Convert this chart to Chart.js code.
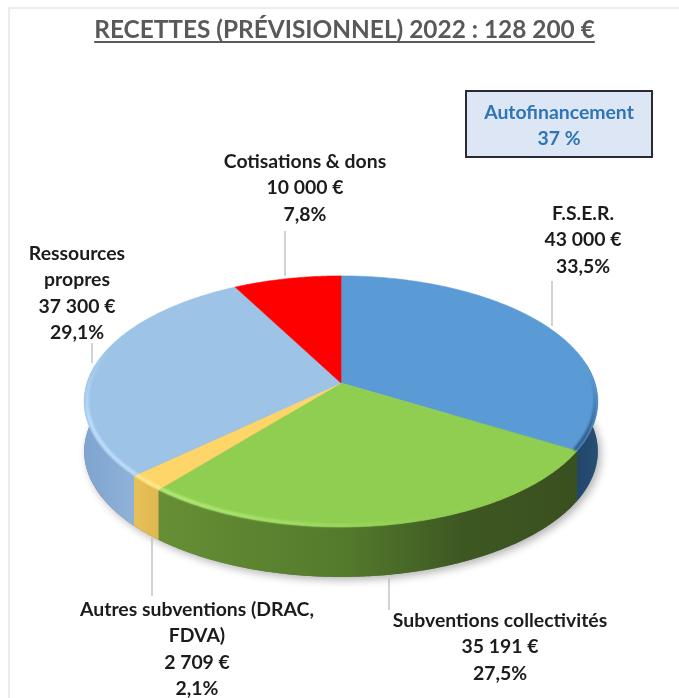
<!DOCTYPE html>
<html>
<head>
<meta charset="utf-8">
<title>Recettes 2022</title>
<script src="https://cdn.jsdelivr.net/npm/chart.js@4"></script>
<style>
    html, body { margin: 0; padding: 0; background: #fff; }
    #wrap { position: relative; width: 679px; height: 698px; overflow: hidden; }
    canvas { display: block; filter: blur(0.45px); }
</style>
</head>
<body>
<div id="wrap"><canvas id="pie" width="679" height="698"></canvas></div>
<script>
// values
const categories = ['F.S.E.R.', 'Subventions collectivités', 'Autres subventions (DRAC, FDVA)', 'Ressources propres', 'Cotisations & dons'];
const amounts = [43000, 35191, 2709, 37300, 10000];
const amountLabels = ['43 000 €', '35 191 €', '2 709 €', '37 300 €', '10 000 €'];
const percentLabels = ['33,5%', '27,5%', '2,1%', '29,1%', '7,8%'];
const titleText = 'RECETTES (PRÉVISIONNEL) 2022 : 128 200 €';
const boxLines = ['Autofinancement', '37 %'];

const topColors = ['#5b9bd5', '#8fce50', '#fdd568', '#9dc3e6', '#ff0000'];
const sideStops = [
    [[0, '#23466b'], [1, '#264e75']],
    [[0, '#668f35'], [0.45, '#537a2c'], [0.72, '#3e5822'], [1, '#3a501f']],
    [[0, '#e8c05a'], [1, '#e0b850']],
    [[0, '#7ea5d0'], [0.5, '#86abd4'], [1, '#8fb2d8']],
    [[0, '#c00000'], [1, '#c00000']]
];
// bevel on the rim: gradient x0,y0,x1,y1 and its two colours
const bevels = [
    [0, 375, 0, 435, 'rgba(38,80,125,0)', 'rgba(38,80,125,0.85)'],
    [163, 0, 440, 0, 'rgba(182,236,122,0.95)', 'rgba(182,236,122,0)'],
    [0, 0, 0, 1, '#ffe98f', '#ffe98f'],
    [0, 345, 0, 420, 'rgba(190,222,251,0)', 'rgba(190,222,251,1)'],
    null
];

// label placement, one block per slice: centre x, first baseline
const labelLines = [
    ['F.S.E.R.', amountLabels[0], percentLabels[0]],
    ['Subventions collectivités', amountLabels[1], percentLabels[1]],
    ['Autres subventions (DRAC,', 'FDVA)', amountLabels[2], percentLabels[2]],
    ['Ressources', 'propres', amountLabels[3], percentLabels[3]],
    ['Cotisations & dons', amountLabels[4], percentLabels[4]]
];
const labelPos = [[583, 220], [500, 627], [197, 616], [77, 260], [305, 168]];
const leaders = [[552, 281, 326], [389, 578, 610], [152, 538, 596], [92, 343, 363], [285, 231, 276]];

// tilted disc: apex on screen, projection constants
const apexX = 341, apexY = 383, depth = 50;
const scaleX = 254, scaleY = 122.8, tilt = 0.147;

function project(angle, r) {
    // angle as chart.js gives it, -PI/2 is straight up
    const u = Math.cos(angle) * r;
    const v = Math.sin(angle) * r;
    const w = 1 - tilt * v;
    return [apexX + scaleX * u / w, apexY + scaleY * v / w];
}

function rimPoints(a0, a1, r) {
    const n = Math.max(2, Math.ceil(Math.abs(a1 - a0) / 0.01));
    const pts = [];
    for (let i = 0; i <= n; i++) pts.push(project(a0 + (a1 - a0) * i / n, r));
    return pts;
}

function tracePoly(ctx, pts) {
    ctx.beginPath();
    pts.forEach((p, i) => i ? ctx.lineTo(p[0], p[1]) : ctx.moveTo(p[0], p[1]));
}

function frontOnly(a0, a1) {
    // the part of a slice rim that faces the viewer (lower half of the disc)
    const lo = Math.max(a0, -0.15), hi = Math.min(a1, Math.PI + 0.15);
    return hi > lo ? [lo, hi] : null;
}

const discPlugin = {
    id: 'disc',
    beforeDatasetDraw(chart, args) {
        const ctx = chart.ctx;
        const arcs = chart.getDatasetMeta(args.index).data;

        // soft shadow under the disc
        ctx.save();
        ctx.shadowColor = 'rgba(0,0,0,0.3)';
        ctx.shadowBlur = 9;
        ctx.shadowOffsetX = 3;
        ctx.shadowOffsetY = 3;
        ctx.fillStyle = '#777';
        const low = rimPoints(-0.15, Math.PI + 0.15, 1).map(p => [p[0], p[1] + depth]);
        tracePoly(ctx, low);
        ctx.closePath();
        ctx.fill();
        ctx.restore();

        // side wall
        arcs.forEach((arc, i) => {
            const span = frontOnly(arc.startAngle, arc.endAngle);
            if (!span) return;
            const top = rimPoints(span[0], span[1], 1);
            const pts = top.concat(top.slice().reverse().map(p => [p[0], p[1] + depth]));
            const xs = top.map(p => p[0]);
            const x0 = Math.min(...xs), x1 = Math.max(...xs);
            const g = ctx.createLinearGradient(x0, 0, x1, 0);
            sideStops[i].forEach(s => g.addColorStop(s[0], s[1]));
            tracePoly(ctx, pts);
            ctx.closePath();
            ctx.fillStyle = g;
            ctx.fill();
        });

        // top faces
        arcs.forEach((arc, i) => {
            const pts = [[apexX, apexY]].concat(rimPoints(arc.startAngle, arc.endAngle, 1));
            tracePoly(ctx, pts);
            ctx.closePath();
            ctx.fillStyle = topColors[i];
            ctx.fill();
            ctx.strokeStyle = topColors[i];
            ctx.lineWidth = 0.6;
            ctx.stroke();
        });

        // bevel along the rim
        ctx.save();
        ctx.filter = 'blur(1px)';
        arcs.forEach((arc, i) => {
            const b = bevels[i];
            if (!b) return;
            const g = ctx.createLinearGradient(b[0], b[1], b[2], b[3]);
            g.addColorStop(0, b[4]);
            g.addColorStop(1, b[5]);
            tracePoly(ctx, rimPoints(arc.startAngle, arc.endAngle, 0.99));
            ctx.strokeStyle = g;
            ctx.lineWidth = 3.5;
            ctx.stroke();
        });
        ctx.restore();
        return false;
    },
    afterDraw(chart) {
        const ctx = chart.ctx;

        // faint frame of the original slide
        ctx.fillStyle = '#ececec';
        ctx.fillRect(8, 7, 671, 2);
        ctx.fillRect(8, 7, 2, 691);

        // leader lines
        ctx.strokeStyle = '#b5b5b5';
        ctx.lineWidth = 1.2;
        leaders.forEach(l => {
            ctx.beginPath();
            ctx.moveTo(l[0], l[1]);
            ctx.lineTo(l[0], l[2]);
            ctx.stroke();
        });

        // slice labels
        ctx.fillStyle = '#1c1c1c';
        ctx.font = 'bold 19.4px Lato, Carlito, sans-serif';
        ctx.textAlign = 'center';
        ctx.textBaseline = 'alphabetic';
        labelLines.forEach((lines, i) => {
            lines.forEach((line, j) => ctx.fillText(line, labelPos[i][0], labelPos[i][1] + j * 26.3));
        });

        // title
        ctx.fillStyle = '#595959';
        ctx.font = 'bold 24.4px Lato, Carlito, sans-serif';
        ctx.fillText(titleText, 344.5, 38);
        const w = ctx.measureText(titleText).width;
        ctx.fillRect(344.5 - w / 2, 41, w, 2);

        // autofinancement box
        ctx.fillStyle = '#dce6f4';
        ctx.fillRect(466, 91, 186, 66);
        ctx.strokeStyle = '#2a2a35';
        ctx.lineWidth = 2;
        ctx.strokeRect(466, 91, 186, 66);
        ctx.fillStyle = '#2e75b6';
        ctx.font = 'bold 19.4px Lato, Carlito, sans-serif';
        ctx.fillText(boxLines[0], 559, 119);
        ctx.fillText(boxLines[1], 559, 145);
    }
};

new Chart(document.getElementById('pie'), {
    type: 'pie',
    data: {
        labels: categories,
        datasets: [{ data: amounts, backgroundColor: topColors, borderWidth: 0 }]
    },
    options: {
        responsive: false,
        animation: false,
        plugins: { legend: { display: false }, tooltip: { enabled: false } }
    },
    plugins: [discPlugin]
});
</script>
</body>
</html>
